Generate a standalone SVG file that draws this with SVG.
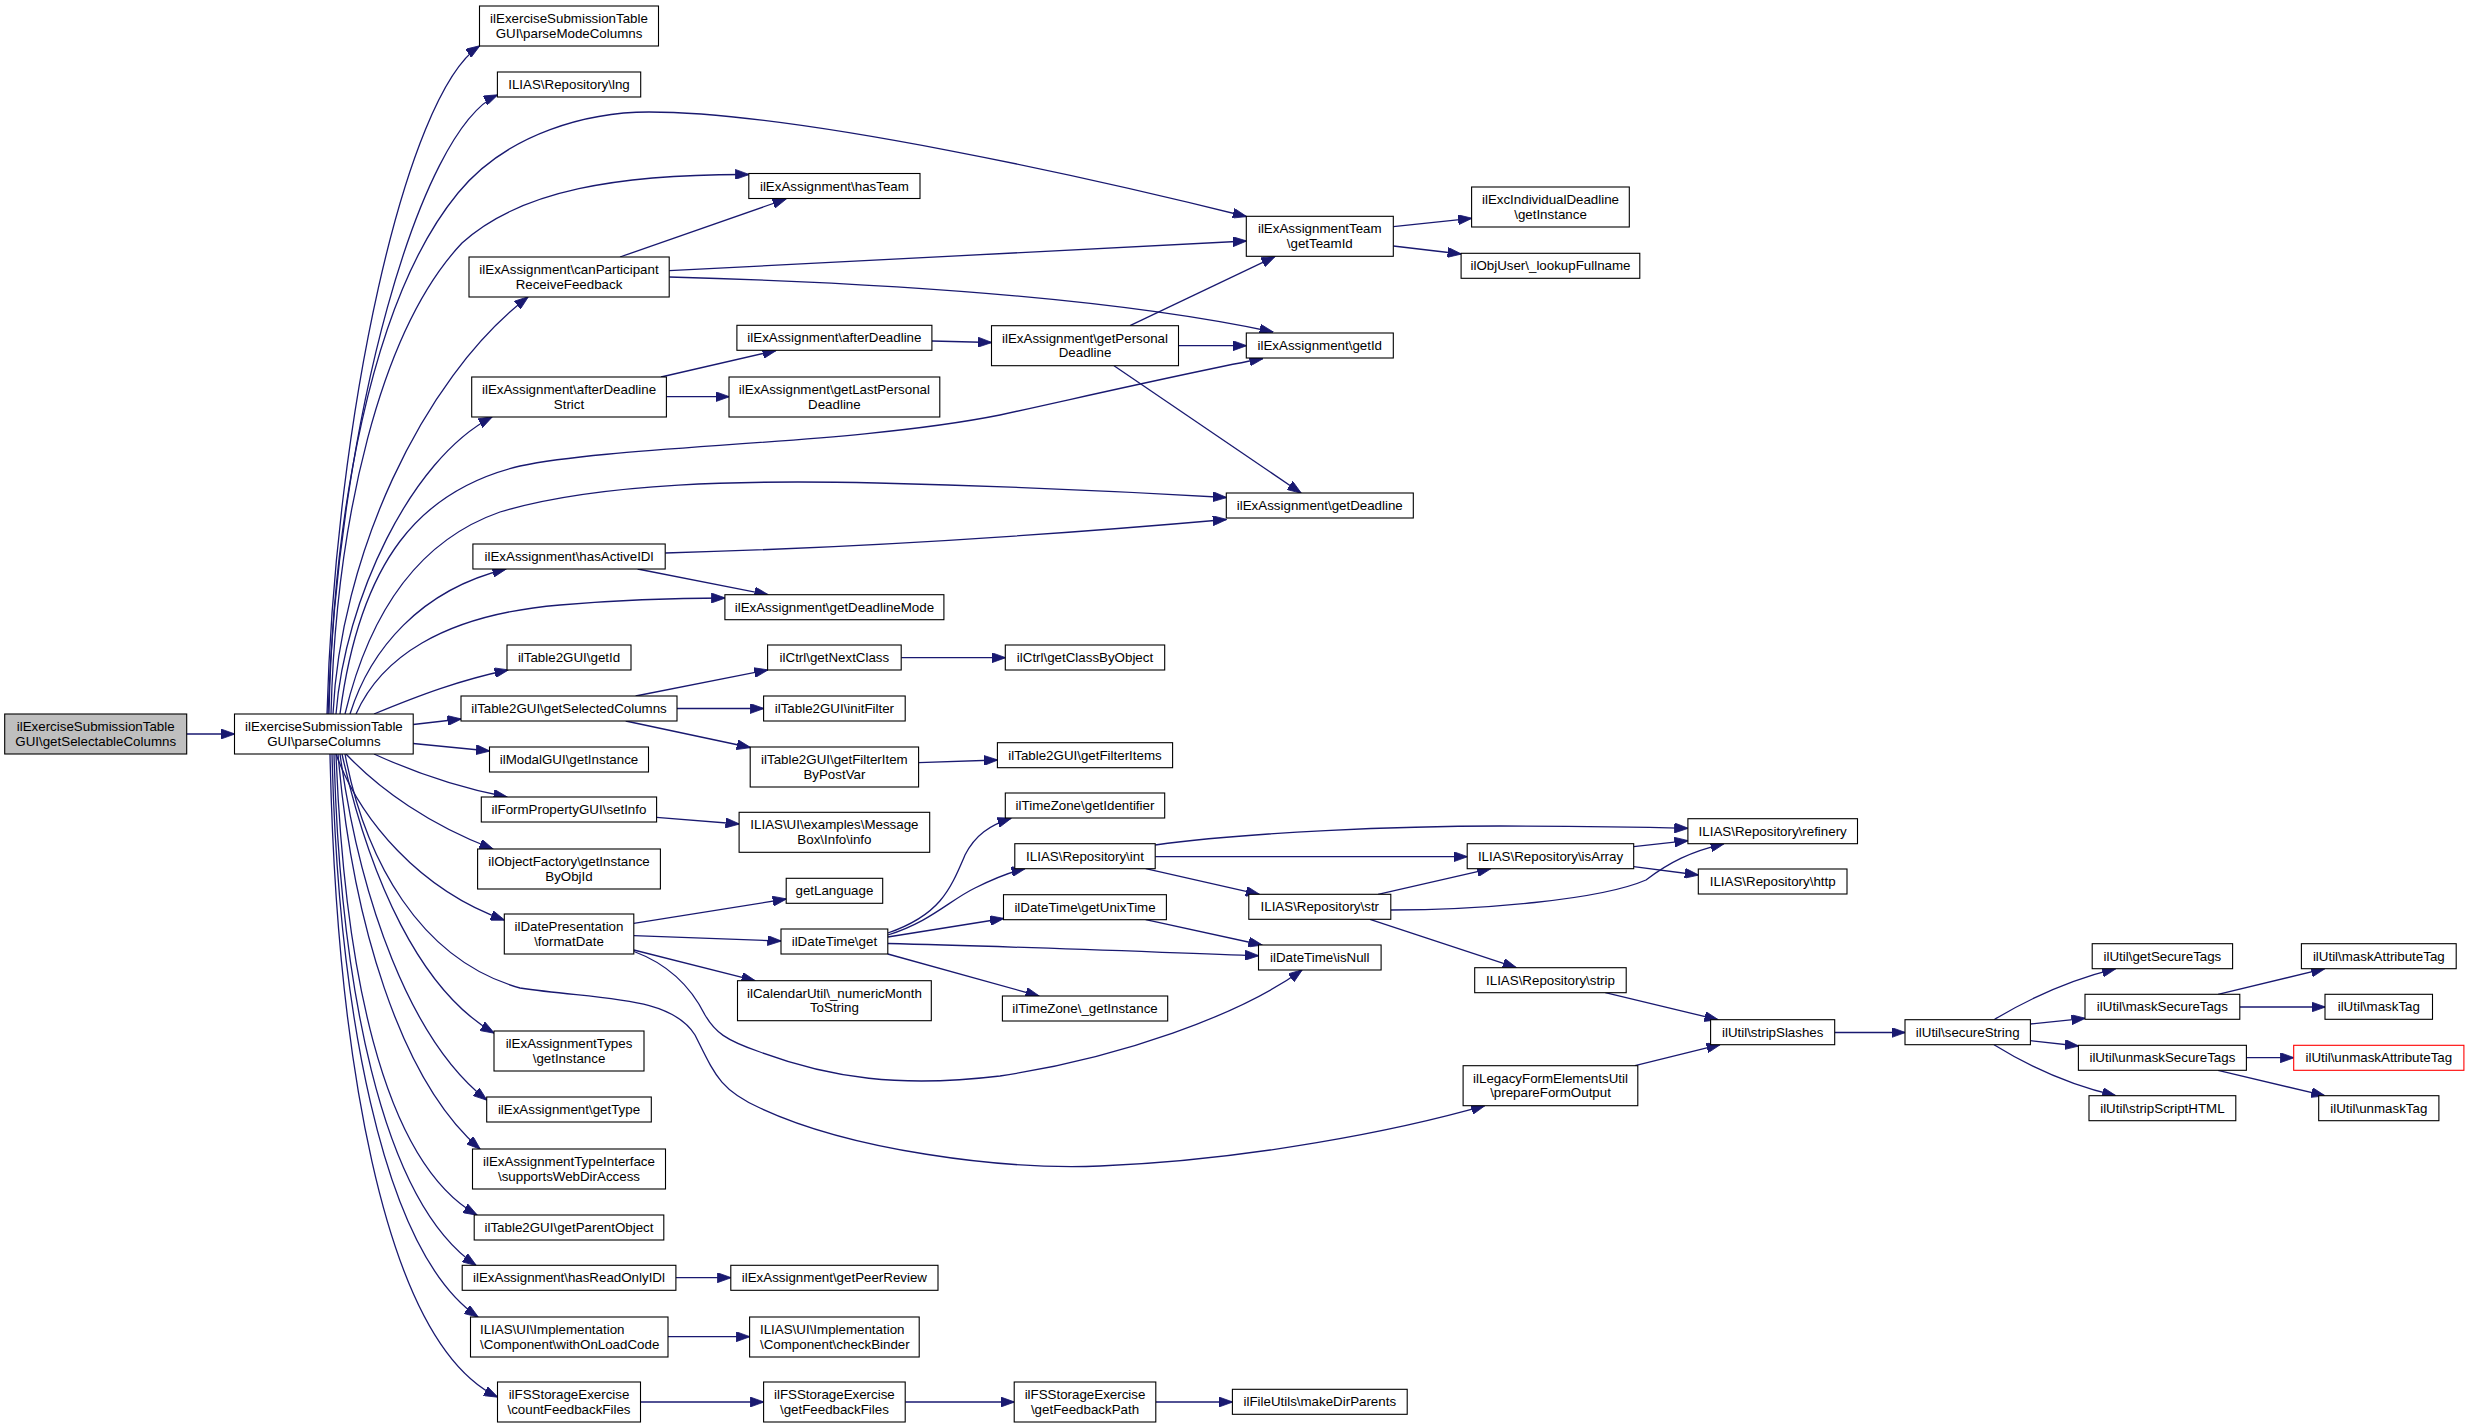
<svg xmlns="http://www.w3.org/2000/svg" width="2469" height="1428" viewBox="0 0 2469 1428">
<defs>
<style>
.node rect{fill:#fff;stroke:#000;stroke-width:1.1}
.root rect{fill:#bfbfbf}
.red rect{stroke:#ff0000}
text{font-family:"Liberation Sans",Arial,Helvetica,sans-serif;font-size:13.33px;fill:#000;text-anchor:middle}
text.l{text-anchor:start}
.edges path{fill:none;stroke:#191970;stroke-width:1.3;marker-end:url(#ah)}
</style>
<marker id="ah" viewBox="0 0 14 10" markerWidth="14" markerHeight="10" refX="13.5" refY="5" orient="auto" markerUnits="userSpaceOnUse"><path d="M0,0 L14,5 L0,10 z" fill="#191970" stroke="#191970" stroke-width="0.8"/></marker>
</defs>
<rect x="0" y="0" width="2469" height="1428" fill="#fff"/>
<g class="edges" id="edges">
<path d="M186.6,734 L234.5,734"/>
<path d="M327,714 C335,420 405,95 479.5,46"/>
<path d="M328,714 C338,420 420,130 497.4,95"/>
<path d="M329,714 C333,520 370,300 458,193 C508,132 590,112 649,112 C800,112 1100,180 1246.3,216.5"/>
<path d="M331,714 C336,520 380,330 462,243 C520,190 620,174 748.8,174.5"/>
<path d="M333,714 C340,560 420,380 528,297"/>
<path d="M336,714 C345,600 410,460 492,417"/>
<path d="M340,714 C360,560 420,490 520,466 C620,445 850,445 1000,415 C1100,393 1200,370 1263,358.5"/>
<path d="M345,714 C370,610 420,540 500,512 C600,482 750,480 877,483 C1000,486 1150,493 1226.3,497.5"/>
<path d="M350,714 C370,650 420,590 506,569"/>
<path d="M356,714 C380,660 440,615 560,605 C630,599 690,598 724.9,598"/>
<path d="M374,714 C420,695 460,680 508,670"/>
<path d="M413.2,724.5 L461,719"/>
<path d="M413.2,743.5 L489.5,751"/>
<path d="M374,754 C420,775 460,788 507,797"/>
<path d="M346,754 C380,790 430,825 493,849"/>
<path d="M336,754 C360,820 420,890 504.3,920"/>
<path d="M345,754 C365,860 420,960 520,988 C600,1000 670,995 695,1035 C715,1075 720,1090 760,1108 C850,1150 1000,1170 1100,1166 C1250,1160 1400,1130 1484.7,1105.7"/>
<path d="M342,754 C370,880 420,990 494,1033"/>
<path d="M340,754 C360,900 410,1040 486.7,1100"/>
<path d="M338,754 C352,920 400,1080 480,1149"/>
<path d="M336,754 C344,960 380,1160 477,1215"/>
<path d="M334,754 C340,980 380,1200 476,1265.3"/>
<path d="M332,754 C338,1000 380,1250 478,1317"/>
<path d="M330,754 C336,1040 380,1340 497.5,1397"/>
<path d="M620,257 L786,199"/>
<path d="M669.2,270.7 L1246.3,241"/>
<path d="M669.2,277 C850,282 1100,295 1273,332"/>
<path d="M661,377 L776,350.5"/>
<path d="M666.4,396.7 L729,396.7"/>
<path d="M931.9,341 L991.5,342.5"/>
<path d="M1130,325.7 L1275,256.5"/>
<path d="M1178.5,345.7 L1246.3,345.7"/>
<path d="M1114,365.7 L1301,493"/>
<path d="M1393.3,226.7 L1471.6,218.3"/>
<path d="M1393.3,246 L1461.1,254"/>
<path d="M665.2,553 C850,548 1050,535 1226.3,519.5"/>
<path d="M637.6,569 L768,594.7"/>
<path d="M635.6,696 L767.6,670"/>
<path d="M677,708.5 L763.6,708.5"/>
<path d="M625.7,721 L750.3,747.5"/>
<path d="M901.2,657.7 L1005.3,657.7"/>
<path d="M918.6,762.7 L997.4,760"/>
<path d="M656.6,817.3 L739.1,824"/>
<path d="M633.8,923.3 L786.2,899"/>
<path d="M633.8,935.7 L781,941"/>
<path d="M633.8,950 L755,980.7"/>
<path d="M634,951.5 C665,963 690,985 705,1015 C715,1032 725,1040 760,1052 C830,1078 900,1088 1000,1076 C1120,1058 1240,1015 1302,970"/>
<path d="M887.8,933 C940,915 950,890 965,855 C975,835 990,825 1011,818.3"/>
<path d="M887.8,935 C930,922 950,900 975,888 C995,878 1010,872 1025,868.7"/>
<path d="M887.8,937 L1003.5,918.5"/>
<path d="M887.8,943.5 C1000,946 1150,952 1258.5,955.7"/>
<path d="M887.8,954 L1039,996"/>
<path d="M1145.7,919.7 L1262,945"/>
<path d="M1155.2,845 C1250,832 1400,826 1500,826 C1580,826 1640,827 1687.9,828.3"/>
<path d="M1155.2,856.7 L1467.2,856.7"/>
<path d="M1145.7,868.7 L1259.3,894.3"/>
<path d="M1633.7,846.7 L1687.9,840.7"/>
<path d="M1633.7,866.7 L1698.3,875"/>
<path d="M1378,894.3 L1490.6,868.7"/>
<path d="M1390.8,910 C1480,910 1600,900 1646,880 C1670,862 1690,852 1724,843.7"/>
<path d="M1370,919.3 L1516.3,967.7"/>
<path d="M1605.3,992.7 L1718,1019.7"/>
<path d="M1635,1065.7 L1720,1044.7"/>
<path d="M1834.7,1032.5 L1905,1032.5"/>
<path d="M1994,1019.7 C2030,998 2070,980 2115.7,968.7"/>
<path d="M2030.4,1024 L2085,1018.3"/>
<path d="M2030.4,1040.7 L2078.4,1046"/>
<path d="M1994,1044.7 C2030,1067 2070,1085 2115.7,1095.7"/>
<path d="M2218,994.3 L2324.7,968.7"/>
<path d="M2239.8,1007 L2325,1007"/>
<path d="M2246.4,1057.7 L2293.7,1057.7"/>
<path d="M2218,1070.3 L2324.7,1095.7"/>
<path d="M675.9,1277.7 L730.8,1277.7"/>
<path d="M668,1336.7 L749.6,1336.7"/>
<path d="M640.5,1402 L763.6,1402"/>
<path d="M905.2,1402 L1014.2,1402"/>
<path d="M1155.8,1402 L1232.4,1402"/>
</g>
<g id="n_getSelectableColumns" class="node root"><rect x="4.7" y="714" width="182" height="40"/><text x="95.7" y="731">ilExerciseSubmissionTable</text><text x="95.7" y="745.5">GUI\getSelectableColumns</text></g>
<g id="n_parseColumns" class="node"><rect x="234.5" y="714" width="178.7" height="40"/><text x="323.9" y="731">ilExerciseSubmissionTable</text><text x="323.9" y="745.5">GUI\parseColumns</text></g>
<g id="n_parseModeColumns" class="node"><rect x="479.5" y="6" width="179" height="40"/><text x="569" y="23">ilExerciseSubmissionTable</text><text x="569" y="37.5">GUI\parseModeColumns</text></g>
<g id="n_lng" class="node"><rect x="497.4" y="72" width="143.3" height="25"/><text x="569" y="89">ILIAS\Repository\lng</text></g>
<g id="n_canParticipant" class="node"><rect x="469" y="257" width="200.2" height="40"/><text x="569" y="274">ilExAssignment\canParticipant</text><text x="569" y="288.5">ReceiveFeedback</text></g>
<g id="n_afterDeadlineStrict" class="node"><rect x="471.7" y="377" width="194.7" height="40"/><text x="569" y="394">ilExAssignment\afterDeadline</text><text x="569" y="408.5">Strict</text></g>
<g id="n_hasActiveIDl" class="node"><rect x="472.9" y="544" width="192.3" height="25"/><text x="569" y="561">ilExAssignment\hasActiveIDl</text></g>
<g id="n_t2getId" class="node"><rect x="507" y="645" width="124" height="25"/><text x="569" y="662">ilTable2GUI\getId</text></g>
<g id="n_getSelectedColumns" class="node"><rect x="461" y="696" width="216" height="25"/><text x="569" y="713">ilTable2GUI\getSelectedColumns</text></g>
<g id="n_modal" class="node"><rect x="489.5" y="747" width="159" height="25"/><text x="569" y="764">ilModalGUI\getInstance</text></g>
<g id="n_setInfo" class="node"><rect x="481.3" y="797" width="175.3" height="25"/><text x="569" y="814">ilFormPropertyGUI\setInfo</text></g>
<g id="n_objFactory" class="node"><rect x="477.6" y="849" width="182.8" height="40"/><text x="569" y="866">ilObjectFactory\getInstance</text><text x="569" y="880.5">ByObjId</text></g>
<g id="n_formatDate" class="node"><rect x="504.3" y="914" width="129.5" height="40"/><text x="569" y="931">ilDatePresentation</text><text x="569" y="945.5">\formatDate</text></g>
<g id="n_typesGetInstance" class="node"><rect x="494" y="1031" width="150" height="40"/><text x="569" y="1048">ilExAssignmentTypes</text><text x="569" y="1062.5">\getInstance</text></g>
<g id="n_getType" class="node"><rect x="486.7" y="1097" width="164.6" height="25"/><text x="569" y="1114">ilExAssignment\getType</text></g>
<g id="n_supportsWeb" class="node"><rect x="472.5" y="1149" width="193" height="40"/><text x="569" y="1166">ilExAssignmentTypeInterface</text><text x="569" y="1180.5">\supportsWebDirAccess</text></g>
<g id="n_getParentObject" class="node"><rect x="474.2" y="1215" width="189.6" height="25"/><text x="569" y="1232">ilTable2GUI\getParentObject</text></g>
<g id="n_hasReadOnlyIDl" class="node"><rect x="462.2" y="1265.3" width="213.7" height="25"/><text x="569" y="1282.3">ilExAssignment\hasReadOnlyIDl</text></g>
<g id="n_withOnLoadCode" class="node"><rect x="470.5" y="1317" width="197.5" height="40"/><text class="l" x="480" y="1334">ILIAS\UI\Implementation</text><text class="l" x="480" y="1348.5">\Component\withOnLoadCode</text></g>
<g id="n_countFeedbackFiles" class="node"><rect x="497.5" y="1382" width="143" height="40"/><text x="569" y="1399">ilFSStorageExercise</text><text x="569" y="1413.5">\countFeedbackFiles</text></g>
<g id="n_hasTeam" class="node"><rect x="748.8" y="173.5" width="171.2" height="25"/><text x="834.4" y="190.5">ilExAssignment\hasTeam</text></g>
<g id="n_afterDeadline" class="node"><rect x="736.9" y="325.3" width="195" height="25"/><text x="834.4" y="342.3">ilExAssignment\afterDeadline</text></g>
<g id="n_getLastPersonalDeadline" class="node"><rect x="729" y="377" width="210.8" height="40"/><text x="834.4" y="394">ilExAssignment\getLastPersonal</text><text x="834.4" y="408.5">Deadline</text></g>
<g id="n_getDeadlineMode" class="node"><rect x="724.9" y="594.7" width="219" height="25"/><text x="834.4" y="611.7">ilExAssignment\getDeadlineMode</text></g>
<g id="n_getNextClass" class="node"><rect x="767.6" y="645" width="133.6" height="25"/><text x="834.4" y="662">ilCtrl\getNextClass</text></g>
<g id="n_initFilter" class="node"><rect x="763.6" y="696" width="141.6" height="25"/><text x="834.4" y="713">ilTable2GUI\initFilter</text></g>
<g id="n_getFilterItemByPostVar" class="node"><rect x="750.2" y="747" width="168.4" height="40"/><text x="834.4" y="764">ilTable2GUI\getFilterItem</text><text x="834.4" y="778.5">ByPostVar</text></g>
<g id="n_messageBox" class="node"><rect x="739.1" y="812.3" width="190.6" height="40"/><text x="834.4" y="829.3">ILIAS\UI\examples\Message</text><text x="834.4" y="843.8">Box\Info\info</text></g>
<g id="n_getLanguage" class="node"><rect x="786.2" y="878.3" width="96.5" height="25"/><text x="834.4" y="895.3">getLanguage</text></g>
<g id="n_dtGet" class="node"><rect x="781" y="929" width="106.8" height="25"/><text x="834.4" y="946">ilDateTime\get</text></g>
<g id="n_calendarUtil" class="node"><rect x="737.5" y="980.7" width="193.8" height="40"/><text x="834.4" y="997.7">ilCalendarUtil\_numericMonth</text><text x="834.4" y="1012.2">ToString</text></g>
<g id="n_getPeerReview" class="node"><rect x="730.8" y="1265.3" width="207.2" height="25"/><text x="834.4" y="1282.3">ilExAssignment\getPeerReview</text></g>
<g id="n_checkBinder" class="node"><rect x="749.6" y="1317" width="169.6" height="40"/><text class="l" x="760" y="1334">ILIAS\UI\Implementation</text><text class="l" x="760" y="1348.5">\Component\checkBinder</text></g>
<g id="n_getFeedbackFiles" class="node"><rect x="763.6" y="1382" width="141.6" height="40"/><text x="834.4" y="1399">ilFSStorageExercise</text><text x="834.4" y="1413.5">\getFeedbackFiles</text></g>
<g id="n_getPersonalDeadline" class="node"><rect x="991.5" y="325.7" width="187" height="40"/><text x="1085" y="342.7">ilExAssignment\getPersonal</text><text x="1085" y="357.2">Deadline</text></g>
<g id="n_getClassByObject" class="node"><rect x="1005.3" y="645" width="159.4" height="25"/><text x="1085" y="662">ilCtrl\getClassByObject</text></g>
<g id="n_getFilterItems" class="node"><rect x="997.4" y="742.7" width="175.2" height="25"/><text x="1085" y="759.7">ilTable2GUI\getFilterItems</text></g>
<g id="n_getIdentifier" class="node"><rect x="1005.3" y="793" width="159.4" height="25"/><text x="1085" y="810">ilTimeZone\getIdentifier</text></g>
<g id="n_int" class="node"><rect x="1014.8" y="843.7" width="140.4" height="25"/><text x="1085" y="860.7">ILIAS\Repository\int</text></g>
<g id="n_getUnixTime" class="node"><rect x="1003.5" y="894.7" width="162.9" height="25"/><text x="1085" y="911.7">ilDateTime\getUnixTime</text></g>
<g id="n_tzGetInstance" class="node"><rect x="1002.4" y="996" width="165.3" height="25"/><text x="1085" y="1013">ilTimeZone\_getInstance</text></g>
<g id="n_getFeedbackPath" class="node"><rect x="1014.2" y="1382" width="141.6" height="40"/><text x="1085" y="1399">ilFSStorageExercise</text><text x="1085" y="1413.5">\getFeedbackPath</text></g>
<g id="n_getTeamId" class="node"><rect x="1246.3" y="216.3" width="147" height="40"/><text x="1319.8" y="233.3">ilExAssignmentTeam</text><text x="1319.8" y="247.8">\getTeamId</text></g>
<g id="n_getId" class="node"><rect x="1246.3" y="333" width="147" height="25"/><text x="1319.8" y="350">ilExAssignment\getId</text></g>
<g id="n_getDeadline" class="node"><rect x="1226.3" y="493" width="187" height="25"/><text x="1319.8" y="510">ilExAssignment\getDeadline</text></g>
<g id="n_str" class="node"><rect x="1248.8" y="894.3" width="142" height="25"/><text x="1319.8" y="911.3">ILIAS\Repository\str</text></g>
<g id="n_isNull" class="node"><rect x="1258.5" y="945" width="122.6" height="25"/><text x="1319.8" y="962">ilDateTime\isNull</text></g>
<g id="n_makeDirParents" class="node"><rect x="1232.4" y="1389.3" width="174.8" height="25"/><text x="1319.8" y="1406.3">ilFileUtils\makeDirParents</text></g>
<g id="n_excIndividualDeadline" class="node"><rect x="1471.6" y="187" width="157.7" height="40"/><text x="1550.5" y="204">ilExcIndividualDeadline</text><text x="1550.5" y="218.5">\getInstance</text></g>
<g id="n_lookupFullname" class="node"><rect x="1461.1" y="253.3" width="178.7" height="25"/><text x="1550.5" y="270.3">ilObjUser\_lookupFullname</text></g>
<g id="n_isArray" class="node"><rect x="1467.2" y="843.7" width="166.5" height="25"/><text x="1550.5" y="860.7">ILIAS\Repository\isArray</text></g>
<g id="n_strip" class="node"><rect x="1474.7" y="967.7" width="151.5" height="25"/><text x="1550.5" y="984.7">ILIAS\Repository\strip</text></g>
<g id="n_prepareFormOutput" class="node"><rect x="1463.1" y="1065.7" width="174.7" height="40"/><text x="1550.5" y="1082.7">ilLegacyFormElementsUtil</text><text x="1550.5" y="1097.2">\prepareFormOutput</text></g>
<g id="n_refinery" class="node"><rect x="1687.9" y="818.7" width="169.6" height="25"/><text x="1772.7" y="835.7">ILIAS\Repository\refinery</text></g>
<g id="n_http" class="node"><rect x="1698.3" y="869" width="148.7" height="25"/><text x="1772.7" y="886">ILIAS\Repository\http</text></g>
<g id="n_stripSlashes" class="node"><rect x="1710.6" y="1019.7" width="124.1" height="25"/><text x="1772.7" y="1036.7">ilUtil\stripSlashes</text></g>
<g id="n_secureString" class="node"><rect x="1905" y="1019.7" width="125.4" height="25"/><text x="1967.7" y="1036.7">ilUtil\secureString</text></g>
<g id="n_getSecureTags" class="node"><rect x="2092.2" y="943.7" width="140.4" height="25"/><text x="2162.4" y="960.7">ilUtil\getSecureTags</text></g>
<g id="n_maskSecureTags" class="node"><rect x="2085" y="994.3" width="154.8" height="25"/><text x="2162.4" y="1011.3">ilUtil\maskSecureTags</text></g>
<g id="n_unmaskSecureTags" class="node"><rect x="2078.4" y="1045.3" width="168" height="25"/><text x="2162.4" y="1062.3">ilUtil\unmaskSecureTags</text></g>
<g id="n_stripScriptHTML" class="node"><rect x="2089" y="1095.7" width="146.8" height="25"/><text x="2162.4" y="1112.7">ilUtil\stripScriptHTML</text></g>
<g id="n_maskAttributeTag" class="node"><rect x="2301.4" y="943.7" width="154.8" height="25"/><text x="2378.8" y="960.7">ilUtil\maskAttributeTag</text></g>
<g id="n_maskTag" class="node"><rect x="2325" y="994.3" width="107.5" height="25"/><text x="2378.8" y="1011.3">ilUtil\maskTag</text></g>
<g id="n_unmaskAttributeTag" class="node red"><rect x="2293.7" y="1045.3" width="170.2" height="25"/><text x="2378.8" y="1062.3">ilUtil\unmaskAttributeTag</text></g>
<g id="n_unmaskTag" class="node"><rect x="2318.7" y="1095.7" width="120.2" height="25"/><text x="2378.8" y="1112.7">ilUtil\unmaskTag</text></g>
</svg>
